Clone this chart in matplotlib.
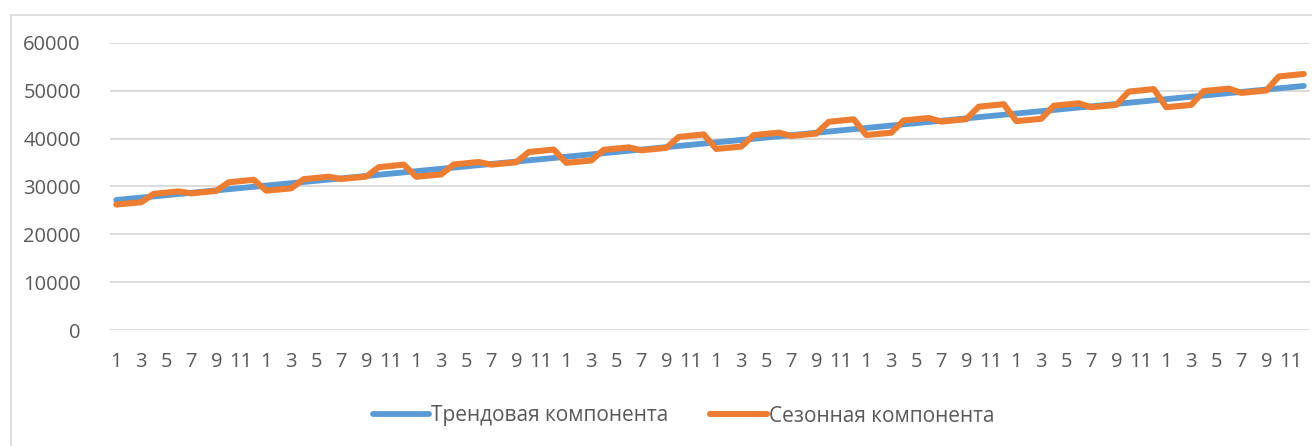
import matplotlib
matplotlib.use("Agg")
import matplotlib.pyplot as plt
from matplotlib.lines import Line2D

# ---- data ----
months = [1, 2, 3, 4, 5, 6, 7, 8, 9, 10, 11, 12] * 8

trend = [
    27180, 27431, 27682, 27933, 28184, 28435, 28686, 28937, 29188, 29439, 29690, 29941,
    30192, 30443, 30694, 30945, 31196, 31447, 31698, 31949, 32200, 32451, 32702, 32953,
    33204, 33455, 33706, 33957, 34208, 34459, 34710, 34961, 35212, 35463, 35714, 35965,
    36216, 36467, 36718, 36969, 37220, 37471, 37722, 37973, 38224, 38475, 38726, 38977,
    39228, 39479, 39730, 39981, 40232, 40483, 40734, 40985, 41236, 41487, 41738, 41989,
    42240, 42491, 42742, 42993, 43244, 43495, 43746, 43997, 44248, 44499, 44750, 45001,
    45252, 45503, 45754, 46005, 46256, 46507, 46758, 47009, 47260, 47511, 47762, 48013,
    48264, 48515, 48766, 49017, 49268, 49519, 49770, 50021, 50272, 50523, 50774, 51025,
]

seasonal = [
    26229, 26471, 26713, 28464, 28720, 28975, 28571, 28821, 29071, 30882, 31145, 31408,
    29135, 29377, 29620, 31533, 31789, 32044, 31571, 31821, 32071, 34041, 34304, 34568,
    32042, 32284, 32526, 34602, 34858, 35114, 34571, 34821, 35071, 37201, 37464, 37727,
    34948, 35191, 35433, 37671, 37927, 38183, 37571, 37821, 38071, 40360, 40624, 40887,
    37855, 38097, 38339, 40741, 40996, 41252, 40571, 40821, 41071, 43520, 43783, 44046,
    40762, 41004, 41246, 43810, 44066, 44321, 43571, 43821, 44071, 46679, 46943, 47206,
    43668, 43910, 44153, 46879, 47135, 47391, 46571, 46821, 47071, 49839, 50102, 50366,
    46575, 46817, 47059, 49948, 50204, 50460, 49571, 49821, 50071, 52999, 53262, 53525,
]

series_names = ["Трендовая компонента", "Сезонная компонента"]
y_ticks = [0, 10000, 20000, 30000, 40000, 50000, 60000]

# ---- style ----
plt.rcParams['font.family'] = ['Open Sans', 'DejaVu Sans']
TEXT = '#595959'
GRID = '#D9D9D9'
BLUE = '#5B9BD5'
ORANGE = '#ED7D31'
FS = 14.5
LFS = 15

W, H = 1312, 446
fig = plt.figure(figsize=(W / 100, H / 100), dpi=100)

# chart-area border (left and top visible, rest cropped)
fig.add_artist(Line2D([10.5 / W, 10.5 / W], [0, 1 - 14.5 / H], transform=fig.transFigure,
                      color=GRID, lw=1.2))
fig.add_artist(Line2D([10.5 / W, 1], [1 - 14.5 / H, 1 - 14.5 / H], transform=fig.transFigure,
                      color=GRID, lw=1.2))

left, right, bottom, top = 110, 1310, 330, 43
ax = fig.add_axes([left / W, 1 - bottom / H, (right - left) / W, (bottom - top) / H])

x = list(range(1, len(months) + 1))
ax.plot(x, trend, color=BLUE, lw=4.2, solid_capstyle='round', solid_joinstyle='round',
        label=series_names[0], zorder=3)
ax.plot(x, seasonal, color=ORANGE, lw=4.4, solid_capstyle='round', solid_joinstyle='round',
        label=series_names[1], zorder=4)

ax.set_xlim(0.5, len(months) + 0.5)
ax.set_ylim(0, 60000)
ax.set_yticks(y_ticks)
ax.set_yticklabels([str(v) for v in y_ticks])
ax.yaxis.grid(True, color=GRID, lw=1.3)
ax.set_axisbelow(True)

tick_pos = x[::2]
ax.set_xticks(tick_pos)
ax.set_xticklabels([str(months[i - 1]) for i in tick_pos])

for s in ax.spines.values():
    s.set_visible(False)
ax.tick_params(axis='both', length=0, labelsize=FS, labelcolor=TEXT)
ax.tick_params(axis='y', pad=21)
ax.tick_params(axis='x', pad=16)
ax.patch.set_alpha(0)

leg = fig.legend(loc='center', bbox_to_anchor=(0.521, 1 - 416 / H), ncol=2, frameon=False,
                 fontsize=LFS, handlelength=2.7, handletextpad=0.1, columnspacing=2.0,
                 labelcolor=TEXT)

fig.savefig('out.png', dpi=100)
